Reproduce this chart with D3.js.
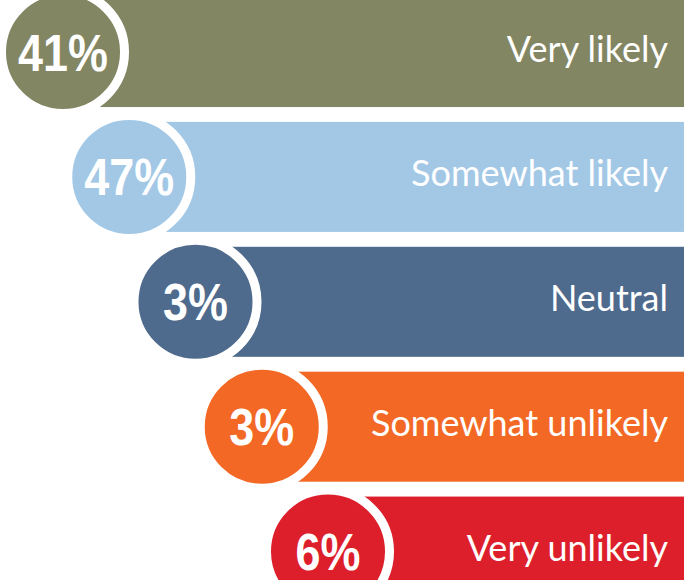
<!DOCTYPE html>
<html>
<head>
<meta charset="utf-8">
<script src="https://cdn.jsdelivr.net/npm/d3@7"></script>
<style>
  html, body { margin: 0; padding: 0; background: #ffffff; overflow: hidden; }
  svg { display: block; }
</style>
</head>
<body>
<svg id="chart" width="684" height="580"></svg>
<script>
// Survey answers, top to bottom
const categories = ["Very likely", "Somewhat likely", "Neutral", "Somewhat unlikely", "Very unlikely"];
const values = [41, 47, 3, 3, 6];
const colors = ["#838663", "#a2c8e6", "#4e6a8d", "#f26824", "#dd1f2b"];

const width = 684, height = 580;
const svg = d3.select("#chart");

// Rows: one band per answer
const y = d3.scaleBand()
  .domain(categories)
  .range([-3, 606.6])
  .paddingInner(0.119)
  .paddingOuter(0);

// Each row steps further to the right
const x = d3.scalePoint()
  .domain(categories)
  .range([63, 328]);

const r = y.bandwidth() / 2 + 2;
const ring = 9;

const rows = svg.selectAll("g.row")
  .data(categories.map((c, i) => ({ category: c, value: values[i], color: colors[i] })))
  .join("g")
  .attr("class", "row");

// Bar running from the circle centre to the right edge
rows.append("rect")
  .attr("x", d => x(d.category))
  .attr("y", d => y(d.category))
  .attr("width", d => width - x(d.category))
  .attr("height", y.bandwidth())
  .attr("fill", d => d.color);

// Circle with a white ring
rows.append("circle")
  .attr("cx", d => x(d.category))
  .attr("cy", d => y(d.category) + y.bandwidth() / 2)
  .attr("r", r + ring / 2)
  .attr("fill", d => d.color)
  .attr("stroke", "#ffffff")
  .attr("stroke-width", ring);

// Percentage inside the circle
rows.append("text")
  .attr("transform", d => `translate(${x(d.category)},${y(d.category) + y.bandwidth() / 2 + 18.5}) scale(0.88,1)`)
  .attr("text-anchor", "middle")
  .attr("font-family", "'Liberation Sans', Arial, sans-serif")
  .attr("font-weight", "bold")
  .attr("font-size", 51)
  .attr("fill", "#ffffff")
  .text(d => d.value + "%");

// Answer label at the right end of the bar
rows.append("text")
  .attr("x", 668)
  .attr("y", d => y(d.category) + y.bandwidth() / 2 + 9.5)
  .attr("text-anchor", "end")
  .attr("font-family", "Lato, 'Open Sans', sans-serif")
  .attr("font-size", 36)
  .attr("fill", "#ffffff")
  .text(d => d.category);
</script>
</body>
</html>
